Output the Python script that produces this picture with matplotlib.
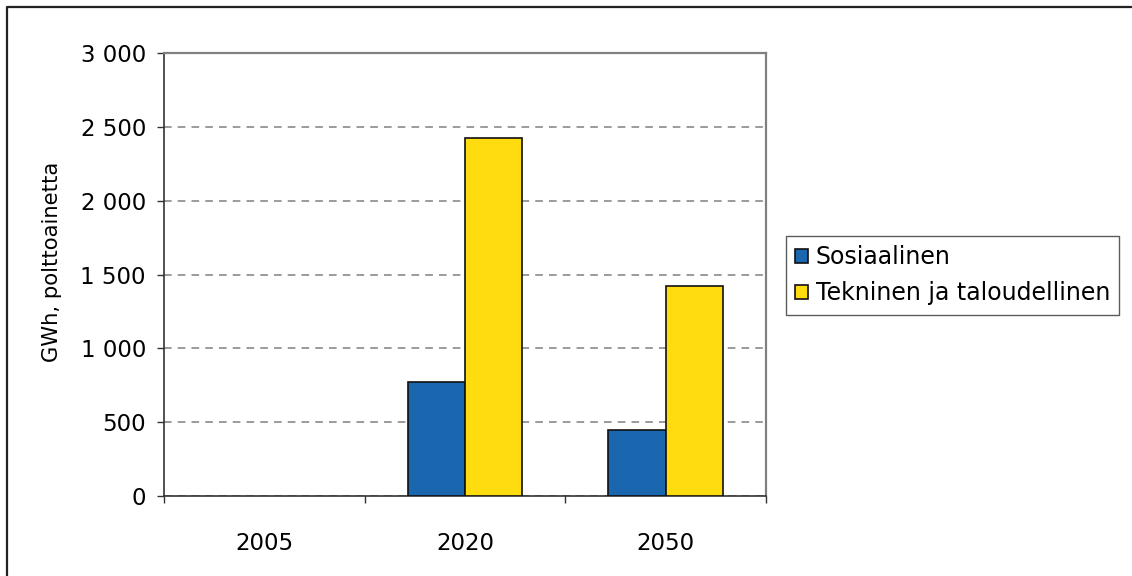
import matplotlib
matplotlib.use("Agg")
import matplotlib.pyplot as plt
from matplotlib.lines import Line2D
from matplotlib.patches import Patch
from matplotlib.ticker import FuncFormatter
import numpy as np

years = ["2005", "2020", "2050"]
sosiaalinen = [0, 772, 449]
tekninen = [0, 2422, 1420]
series_names = ["Sosiaalinen", "Tekninen ja taloudellinen"]
y_label = "GWh, polttoainetta"

blue = "#1a67b0"
yellow = "#ffdc0f"
grid_grey = "#808080"
edge = "#111111"

plt.rcParams["font.family"] = ["DejaVu Sans"]
FS = 16.5

W, H = 1132, 576
fig = plt.figure(figsize=(W / 100, H / 100), dpi=100)
ax = fig.add_axes([164 / W, 1 - 496 / H, (766 - 164) / W, (496 - 53) / H])

x = np.arange(len(years))
bw = 1 / 3.5


def edge_widths(values):
    # empty bars get no outline so nothing shows on the baseline
    return [0 if v == 0 else 1.2 for v in values]


ax.bar(x - bw / 2, sosiaalinen, bw, color=blue, edgecolor=edge,
       linewidth=edge_widths(sosiaalinen), zorder=3)
ax.bar(x + bw / 2, tekninen, bw, color=yellow, edgecolor=edge,
       linewidth=edge_widths(tekninen), zorder=3)

ax.set_xlim(-0.5, len(years) - 0.5)
ax.set_ylim(0, 3000)
ax.set_yticks(np.arange(0, 3001, 500))
ax.yaxis.set_major_formatter(FuncFormatter(lambda v, p: f"{int(v):,}".replace(",", " ")))
ax.set_xticks(x)
ax.set_xticklabels(years)
ax.set_xticks(np.arange(-0.5, len(years), 1), minor=True)

ax.tick_params(axis="x", which="major", length=0, pad=26, labelsize=FS)
ax.tick_params(axis="x", which="minor", length=5, width=1, color="#333333", direction="out")
ax.tick_params(axis="y", which="major", length=5, width=1, color="#333333", pad=8, labelsize=FS)

ax.yaxis.grid(True, linestyle=(0, (5, 4)), color=grid_grey, linewidth=1.1, zorder=0)
ax.set_axisbelow(True)

for s in ("left", "bottom"):
    ax.spines[s].set_color("#333333")
    ax.spines[s].set_linewidth(1.2)
for s in ("top", "right"):
    ax.spines[s].set_color(grid_grey)
    ax.spines[s].set_linewidth(1.6)

fig.text(52 / W, 1 - 262 / H, y_label, rotation=90, ha="center", va="center", fontsize=15.2)

handles = [Patch(facecolor=blue, edgecolor=edge, linewidth=1.2),
           Patch(facecolor=yellow, edgecolor=edge, linewidth=1.2)]
leg = fig.legend(handles, series_names, loc="upper left",
                 bbox_to_anchor=(786 / W, 1 - 236 / H), fontsize=17.0,
                 frameon=True, fancybox=False, edgecolor="#333333", handlelength=0.55,
                 handleheight=0.55, handletextpad=0.3, borderpad=0.4, labelspacing=0.5,
                 borderaxespad=0)
leg.get_frame().set_linewidth(1.0)

# outer frame of the chart area
fig.add_artist(Line2D([6.5 / W, 6.5 / W, 1.0], [0.0, 1 - 6.5 / H, 1 - 6.5 / H],
                      transform=fig.transFigure, color="#222222", linewidth=1.6))

fig.savefig("out.png", dpi=100, facecolor="white")
